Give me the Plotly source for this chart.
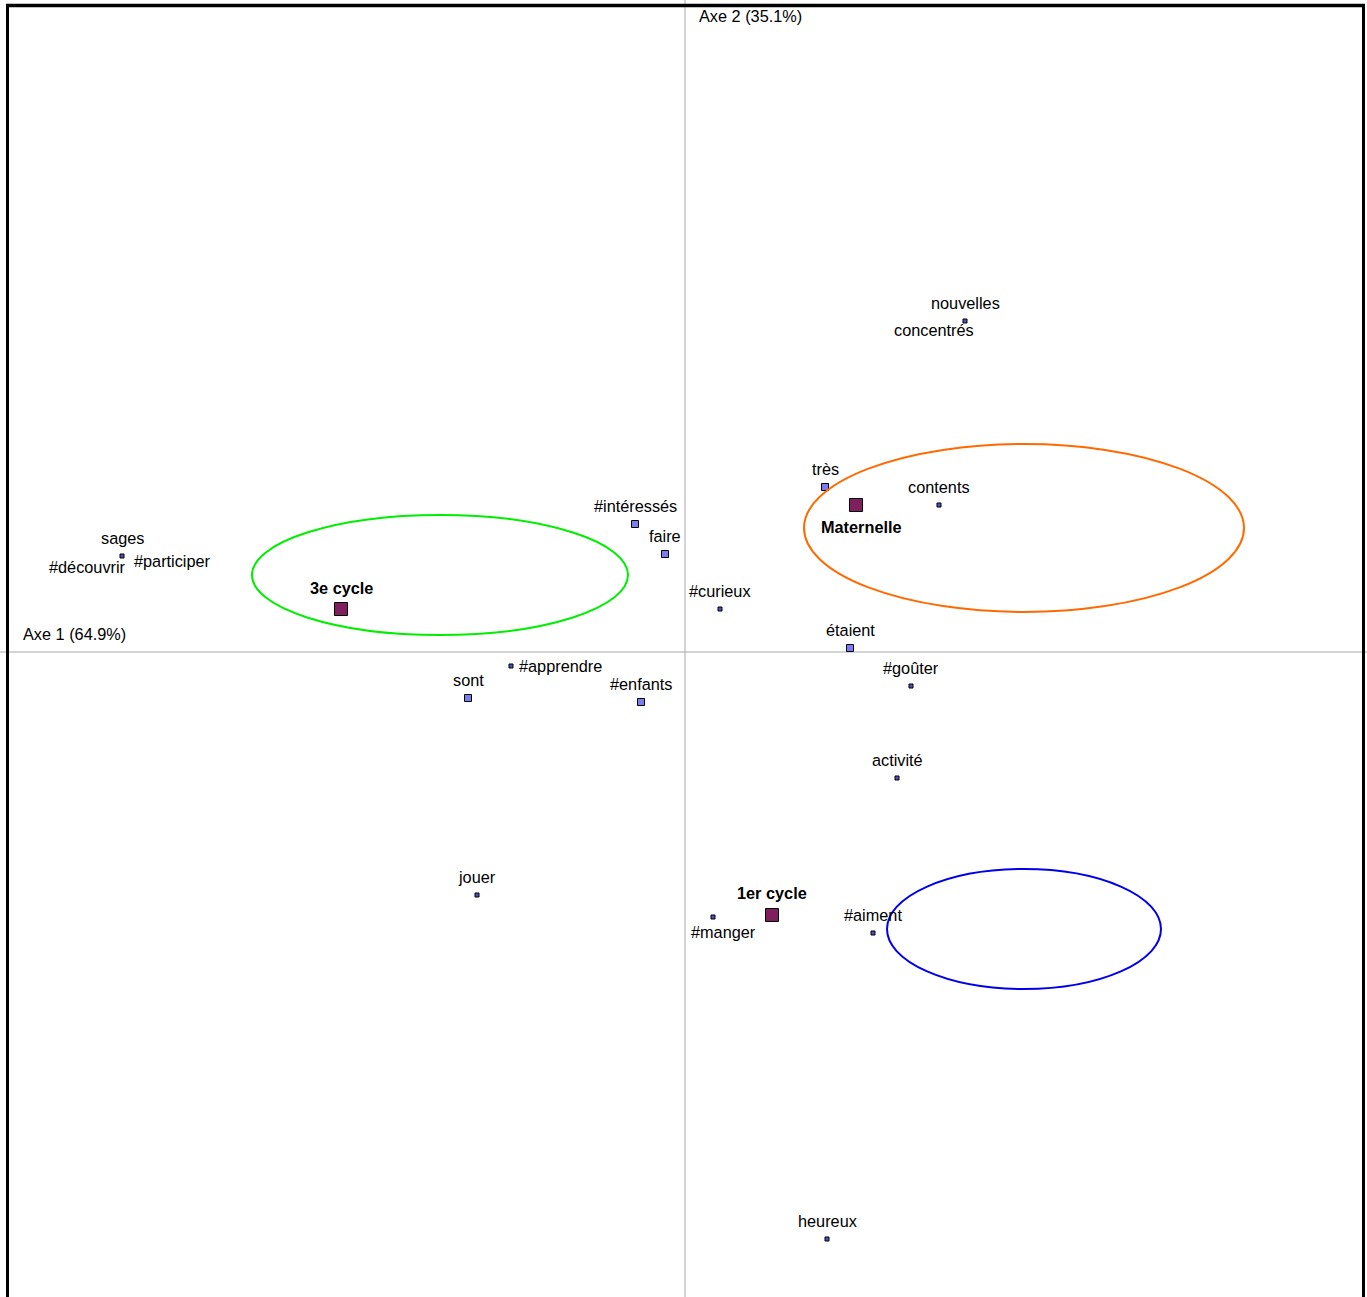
import plotly.graph_objects as go

# ---- data (factor coordinates) ----
words = ["sages", "#intéressés", "faire", "#curieux", "sont", "#apprendre", "#enfants",
         "très", "contents", "étaient", "#goûter", "activité", "jouer", "#manger",
         "#aiment", "heureux", "nouvelles"]
word_x = [-2.815, -0.25, -0.10, 0.175, -1.085, -0.87, -0.22,
          0.70, 1.27, 0.825, 1.13, 1.06, -1.04, 0.14,
          0.94, 0.71, 1.40]
word_y = [0.48, 0.64, 0.49, 0.215, -0.23, -0.07, -0.25,
          0.825, 0.735, 0.02, -0.17, -0.63, -1.215, -1.325,
          -1.405, -2.935, 1.655]
word_big = [False, True, True, False, True, False, True,
            True, False, True, False, False, False, False,
            False, False, False]
# words sharing the same point as another
shared_words = ["#découvrir", "#participer", "concentrés"]
shared_x = [-2.815, -2.815, 1.40]
shared_y = [0.48, 0.48, 1.655]

groups = ["Maternelle", "1er cycle", "3e cycle"]
group_x = [0.855, 0.435, -1.72]
group_y = [0.735, -1.315, 0.215]

ell_names = ["3e cycle", "Maternelle", "1er cycle"]
ell_cx = [-1.225, 1.695, 1.695]
ell_cy = [0.385, 0.62, -1.385]
ell_rx = [0.94, 1.10, 0.685]
ell_ry = [0.30, 0.42, 0.30]
ell_col = ["#00ee00", "#ff6a00", "#0000ee"]

axis1_label = "Axe 1 (64.9%)"
axis2_label = "Axe 2 (35.1%)"

# ---- label offsets (pixels) ----
label_shift = {
    "#apprendre": (49, 0),
    "#manger": (10, -15),
    "#aiment": (0, 18),
}
shared_shift = {
    "#découvrir": (-35, -11),
    "#participer": (50, -5),
    "concentrés": (-31, -9),
}
group_shift = {"Maternelle": (5, -22), "1er cycle": (0, 22), "3e cycle": (0, 21)}

FONT = "Liberation Sans, Arial, sans-serif"
FS = 16.3

fig = go.Figure()

# ellipses
for cx, cy, rx, ry, col in zip(ell_cx, ell_cy, ell_rx, ell_ry, ell_col):
    fig.add_shape(type="circle", xref="x", yref="y",
                  x0=cx - rx, x1=cx + rx, y0=cy - ry, y1=cy + ry,
                  line=dict(color=col, width=2))

# axes lines
fig.add_shape(type="line", xref="x", yref="paper", x0=0, x1=0, y0=0, y1=1,
              line=dict(color="#a8a8a8", width=1), layer="below")
fig.add_shape(type="line", xref="paper", yref="y", x0=0, x1=1, y0=0, y1=0,
              line=dict(color="#a8a8a8", width=1), layer="below")

# word points
sx = [x for x, b in zip(word_x, word_big) if not b]
sy = [y for y, b in zip(word_y, word_big) if not b]
bx = [x for x, b in zip(word_x, word_big) if b]
by = [y for y, b in zip(word_y, word_big) if b]
fig.add_trace(go.Scatter(x=sx, y=sy, mode="markers", hoverinfo="skip",
                         marker=dict(symbol="square", size=4, color="#5050c0",
                                     line=dict(color="black", width=1))))
fig.add_trace(go.Scatter(x=bx, y=by, mode="markers", hoverinfo="skip",
                         marker=dict(symbol="square", size=7, color="#7b7bf2",
                                     line=dict(color="black", width=1))))
fig.add_trace(go.Scatter(x=group_x, y=group_y, mode="markers", hoverinfo="skip",
                         marker=dict(symbol="square", size=13, color="#7f1f5f",
                                     line=dict(color="black", width=1))))

annotations = []
for w, x, y in zip(words, word_x, word_y):
    dx, dy = label_shift.get(w, (0, 18))
    annotations.append(dict(x=x, y=y, xref="x", yref="y", text=w, showarrow=False,
                            xshift=dx, yshift=dy, font=dict(size=FS, color="black", family=FONT)))
for w, x, y in zip(shared_words, shared_x, shared_y):
    dx, dy = shared_shift[w]
    annotations.append(dict(x=x, y=y, xref="x", yref="y", text=w, showarrow=False,
                            xshift=dx, yshift=dy, font=dict(size=FS, color="black", family=FONT)))
for g, x, y in zip(groups, group_x, group_y):
    dx, dy = group_shift[g]
    annotations.append(dict(x=x, y=y, xref="x", yref="y", text="<b>" + g + "</b>", showarrow=False,
                            xshift=dx, yshift=dy, font=dict(size=FS, color="black", family=FONT)))
annotations.append(dict(x=0, y=1, xref="x", yref="paper", text=axis2_label, showarrow=False,
                        xanchor="left", yanchor="top", xshift=12, yshift=-5,
                        font=dict(size=FS, color="black", family=FONT)))
annotations.append(dict(x=0, y=0, xref="paper", yref="y", text=axis1_label, showarrow=False,
                        xanchor="left", yanchor="bottom", xshift=21, yshift=7,
                        font=dict(size=FS, color="black", family=FONT)))

# frame
fig.add_shape(type="line", xref="paper", yref="paper", x0=7.5/1367, x1=7.5/1367, y0=0, y1=1 - 4/1297,
              line=dict(color="black", width=3))
fig.add_shape(type="line", xref="paper", yref="paper", x0=1363.5/1367, x1=1363.5/1367, y0=0, y1=1 - 4/1297,
              line=dict(color="black", width=3))
fig.add_shape(type="line", xref="paper", yref="paper", x0=6/1367, x1=1365/1367, y0=1 - 5.5/1297, y1=1 - 5.5/1297,
              line=dict(color="black", width=3.5))

fig.update_layout(
    width=1367, height=1297,
    margin=dict(l=0, r=0, t=0, b=0),
    paper_bgcolor="white", plot_bgcolor="white",
    showlegend=False,
    xaxis=dict(range=[-3.425, 3.41], visible=False, fixedrange=True),
    yaxis=dict(range=[-3.225, 3.26], visible=False, fixedrange=True),
    annotations=annotations,
)

fig.write_html("out.html", config={"displayModeBar": False},
               post_script="document.body.style.margin='0';document.body.style.overflow='hidden';")
